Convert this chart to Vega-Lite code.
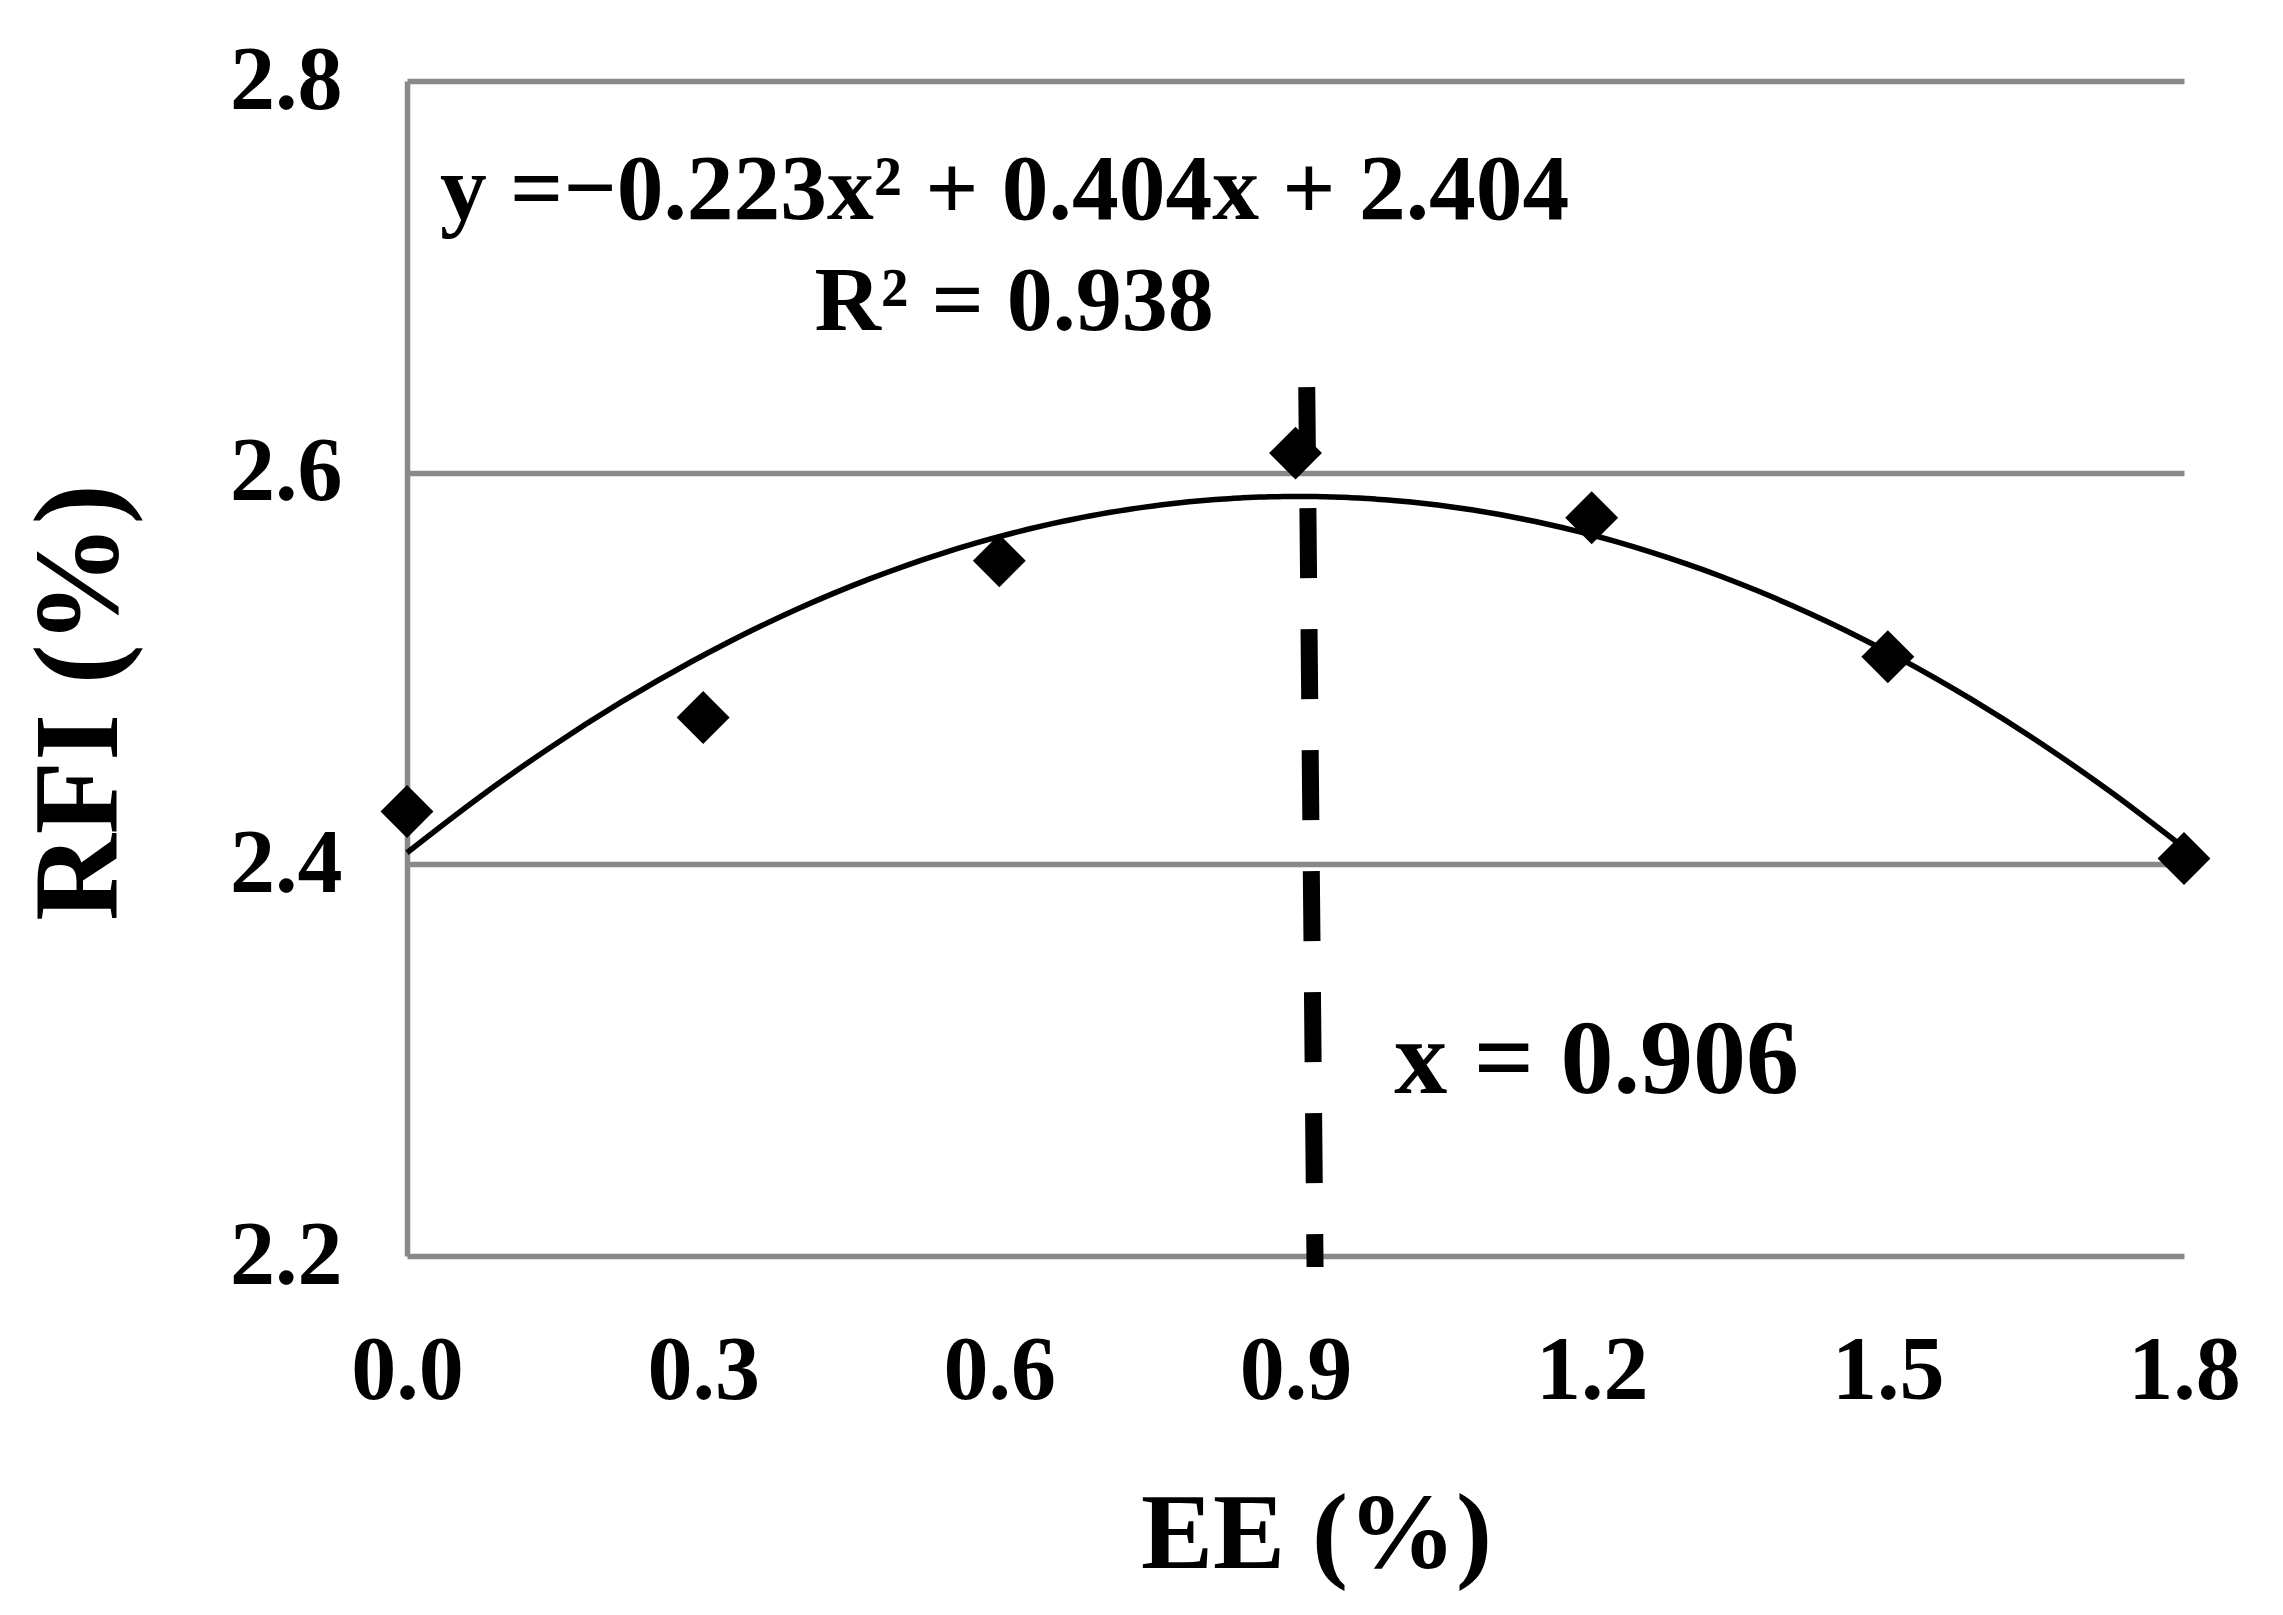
{
  "$schema": "https://vega.github.io/schema/vega-lite/v6.json",
  "width": 1777,
  "height": 1175,
  "autosize": {"type": "none"},
  "padding": {"left": 407, "top": 81, "right": 99, "bottom": 359},
  "background": "white",
  "config": {
    "view": {"stroke": null},
    "font": "Liberation Serif",
    "axis": {
      "labelFont": "Liberation Serif",
      "labelFontWeight": "bold",
      "labelFontSize": 90,
      "labelColor": "black",
      "labelFlush": false,
      "labelOverlap": false,
      "titleFont": "Liberation Serif",
      "titleFontWeight": "bold",
      "titleColor": "black",
      "ticks": false,
      "tickSize": 0
    }
  },
  "datasets": {
    "points": [
      {"EE": 0.0, "RFI": 2.427},
      {"EE": 0.3, "RFI": 2.475},
      {"EE": 0.6, "RFI": 2.555},
      {"EE": 0.9, "RFI": 2.610},
      {"EE": 1.2, "RFI": 2.577},
      {"EE": 1.5, "RFI": 2.506},
      {"EE": 1.8, "RFI": 2.403}
    ],
    "optimum": [
      {"EE": 0.9114, "EE2": 0.9198, "RFI": 2.6437, "RFI2": 2.1944}
    ],
    "notes": [
      {"EE": 0.0334, "RFI": 2.7295, "label": "y =−0.223x² + 0.404x + 2.404", "kind": "eq"},
      {"EE": 0.615, "RFI": 2.6728, "label": "R² = 0.938", "kind": "r2"},
      {"EE": 1.0, "RFI": 2.2832, "label": "x = 0.906", "kind": "opt"}
    ]
  },
  "layer": [
    {
      "data": {"name": "points"},
      "mark": {"type": "point", "shape": "diamond", "filled": true, "color": "black", "size": 2800, "opacity": 1},
      "encoding": {
        "x": {
          "field": "EE", "type": "quantitative",
          "scale": {"domain": [0, 1.8], "nice": false, "zero": false},
          "axis": {
            "values": [0, 0.3, 0.6, 0.9, 1.2, 1.5, 1.8],
            "format": ".1f",
            "grid": false,
            "domain": false,
            "labelPadding": 71,
            "title": "EE (%)",
            "titleFontSize": 108,
            "titlePadding": 66,
            "titleX": 909
          }
        },
        "y": {
          "field": "RFI", "type": "quantitative",
          "scale": {"domain": [2.2, 2.8], "nice": false, "zero": false},
          "axis": {
            "values": [2.2, 2.4, 2.6, 2.8],
            "format": ".1f",
            "grid": true,
            "gridColor": "#898989",
            "gridWidth": 5.5,
            "gridOpacity": 1,
            "domain": true,
            "domainColor": "#898989",
            "domainWidth": 5.5,
            "labelPadding": 65,
            "title": "RFI (%)",
            "titleFontSize": 120,
            "titlePadding": 88,
            "titleY": 621
          }
        }
      }
    },
    {
      "data": {"name": "points"},
      "transform": [
        {"regression": "RFI", "on": "EE", "method": "poly", "order": 2, "extent": [0, 1.8]}
      ],
      "mark": {"type": "line", "color": "black", "strokeWidth": 5.5, "interpolate": "monotone"},
      "encoding": {
        "x": {"field": "EE", "type": "quantitative"},
        "y": {"field": "RFI", "type": "quantitative"}
      }
    },
    {
      "data": {"name": "optimum"},
      "mark": {"type": "rule", "color": "black", "strokeWidth": 17, "strokeDash": [70, 51], "strokeCap": "butt"},
      "encoding": {
        "x": {"field": "EE", "type": "quantitative"},
        "x2": {"field": "EE2"},
        "y": {"field": "RFI", "type": "quantitative"},
        "y2": {"field": "RFI2"}
      }
    },
    {
      "data": {"name": "notes"},
      "transform": [{"filter": "datum.kind === 'eq'"}],
      "mark": {"type": "text", "align": "left", "baseline": "alphabetic", "fontSize": 93.5, "fontWeight": "bold", "font": "Liberation Serif", "color": "black"},
      "encoding": {
        "x": {"field": "EE", "type": "quantitative"},
        "y": {"field": "RFI", "type": "quantitative"},
        "text": {"field": "label"}
      }
    },
    {
      "data": {"name": "notes"},
      "transform": [{"filter": "datum.kind === 'r2'"}],
      "mark": {"type": "text", "align": "center", "baseline": "alphabetic", "fontSize": 92, "fontWeight": "bold", "font": "Liberation Serif", "color": "black"},
      "encoding": {
        "x": {"field": "EE", "type": "quantitative"},
        "y": {"field": "RFI", "type": "quantitative"},
        "text": {"field": "label"}
      }
    },
    {
      "data": {"name": "notes"},
      "transform": [{"filter": "datum.kind === 'opt'"}],
      "mark": {"type": "text", "align": "left", "baseline": "alphabetic", "fontSize": 106, "fontWeight": "bold", "font": "Liberation Serif", "color": "black"},
      "encoding": {
        "x": {"field": "EE", "type": "quantitative"},
        "y": {"field": "RFI", "type": "quantitative"},
        "text": {"field": "label"}
      }
    }
  ]
}
